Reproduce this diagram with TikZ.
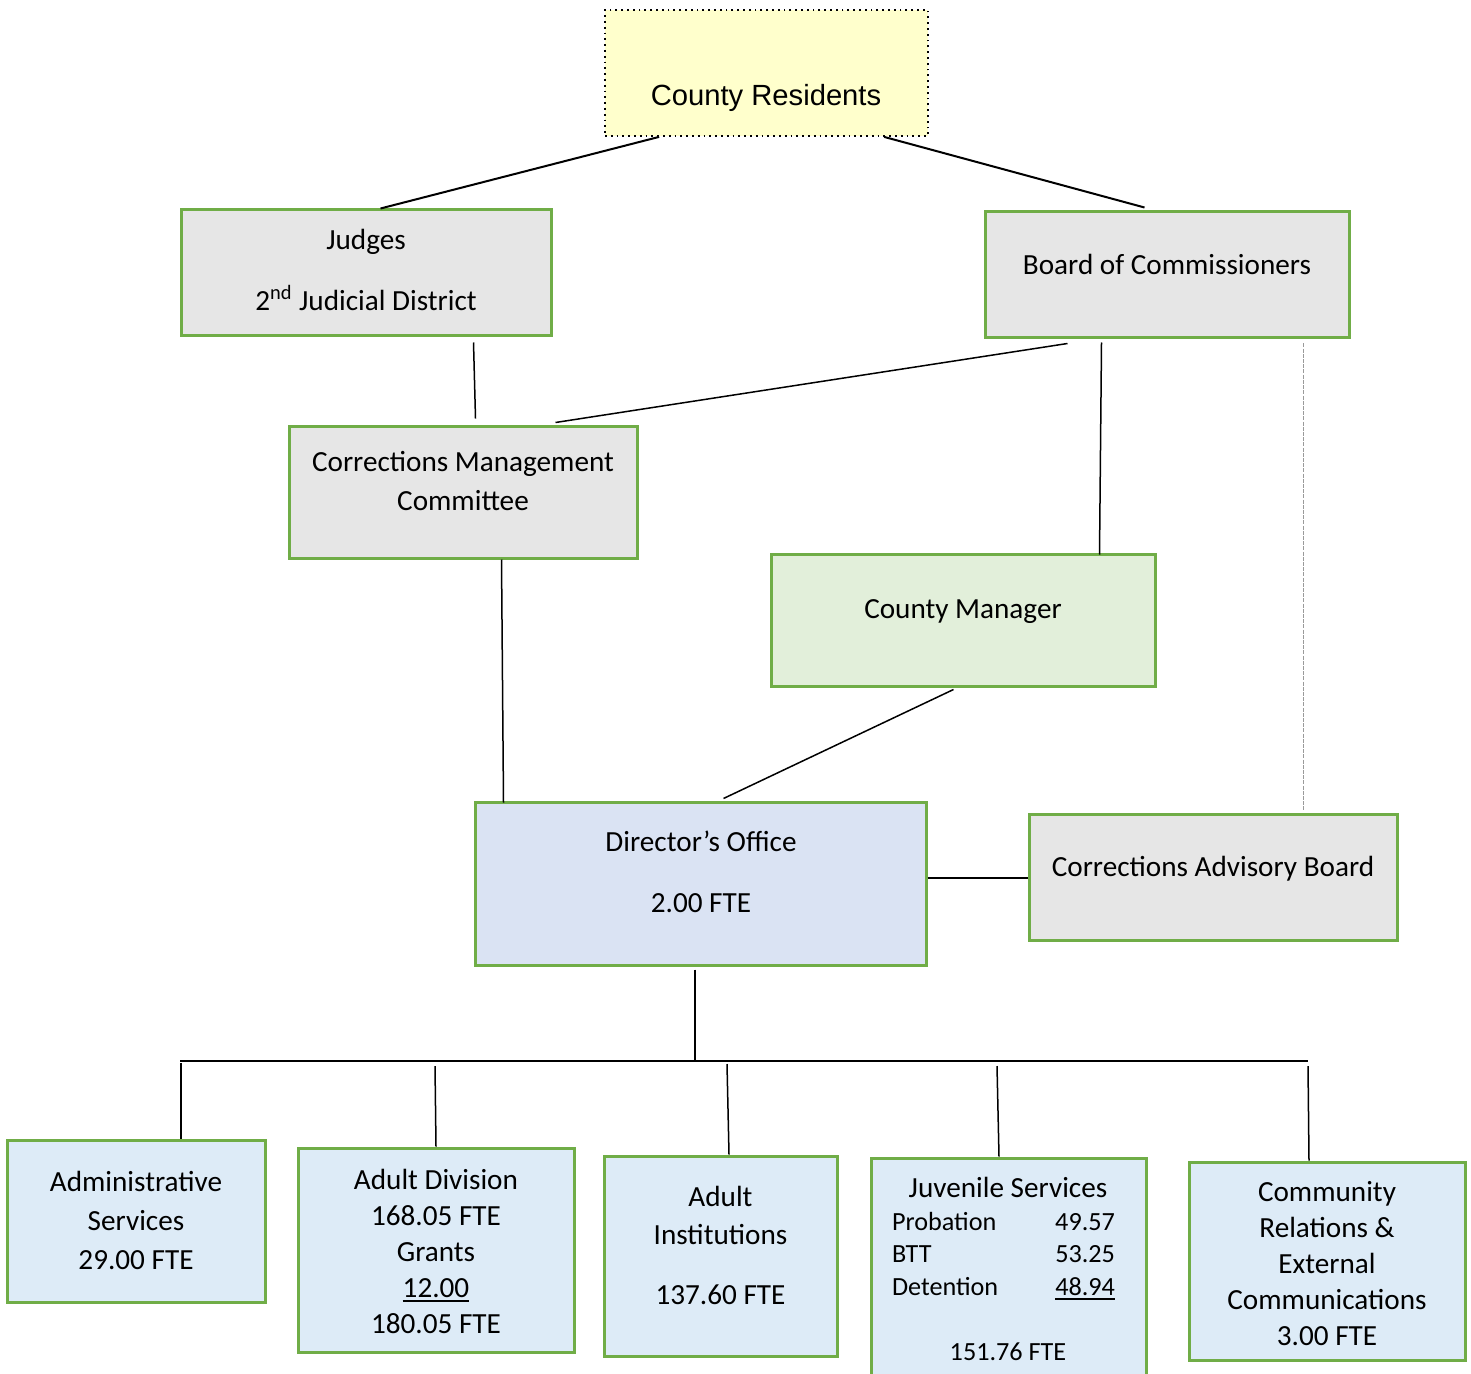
\documentclass[tikz,border=0pt]{standalone}
\usepackage{fontspec}
\setmainfont{Carlito}
\newfontfamily\arialfont{Liberation Sans}
\usepackage{xcolor}
\usepackage{tikz}
\usetikzlibrary{calc}

\definecolor{boxgreen}{HTML}{70AD47}
\definecolor{residents}{HTML}{FFFFCC}
\definecolor{boardgrey}{HTML}{E6E6E6}
\definecolor{managergreen}{HTML}{E2EFDA}
\definecolor{directorblue}{HTML}{DAE3F3}
\definecolor{unitblue}{HTML}{DDEBF7}
\definecolor{advisorygrey}{HTML}{9A9A9A}

% subtotal rule under a figure
\newcommand{\sumline}[1]{\leavevmode\vtop{\hbox{#1}\kern1.5pt\hrule height 0.9pt}}

\begin{document}
\begin{tikzpicture}[
        x=0.5pt, y=-0.5pt,
        block/.style={
            rectangle,
            draw=boxgreen,
            line width=1.5pt,
            inner sep=0pt
        },
        boxsize/.style 2 args={
            minimum width=#1*0.5pt,
            minimum height=#2*0.5pt
        },
        boxtext/.style={
            align=center,
            inner sep=0pt,
            font=\fontsize{14.6}{18}\selectfont
        },
        smalltext/.style={
            align=center,
            inner sep=0pt,
            font=\fontsize{13.1}{16.25}\selectfont
        },
        link/.style={line width=0.75pt}
    ]
    \useasboundingbox (0,0) rectangle (1471,1374);

    % Nodes
    \node[rectangle, draw, dotted, line width=0.9pt, fill=residents, boxsize={323}{126}] (residents) at (766.5,73) {};
    \node[boxtext, font=\arialfont\fontsize{14.6}{18}\selectfont] (residents text) at (766,98) {County Residents};

    \node[block, fill=boardgrey, boxsize={370}{126}] (judges) at (366,273) {};
    \node[boxtext] (judges text) at (366,269.5) {Judges\\[12.5pt]2\textsuperscript{nd} Judicial District};

    \node[block, fill=boardgrey, boxsize={364}{126}] (board) at (1167,275) {};
    \node[boxtext] (board text) at (1167,264) {Board of Commissioners};

    \node[block, fill=boardgrey, boxsize={348}{132}] (committee) at (463,492) {};
    \node[boxtext] (committee text) at (463,481.5) {Corrections Management\\[1.5pt]Committee};

    \node[block, fill=managergreen, boxsize={384}{132}] (manager) at (963,620) {};
    \node[boxtext] (manager text) at (963,612) {County Manager};

    \node[block, fill=directorblue, boxsize={451}{163}] (director) at (700.5,883.5) {};
    \node[boxtext] (director text) at (701,872) {Director’s Office\\[12.5pt]2.00 FTE};

    \node[block, fill=boardgrey, boxsize={368}{126}] (advisory) at (1213,877) {};
    \node[boxtext] (advisory text) at (1213,869) {Corrections Advisory Board};

    \node[block, fill=unitblue, boxsize={258}{162}] (admin) at (136,1221) {};
    \node[boxtext] (admin text) at (136,1220.5) {Administrative\\[1.5pt]Services\\[1.5pt]29.00 FTE};

    \node[block, fill=unitblue, boxsize={276}{204}] (adult) at (436,1250) {};
    \node[boxtext] (adult text) at (436,1251) {Adult Division\\168.05 FTE\\Grants\\\sumline{12.00}\\180.05 FTE};

    \node[block, fill=unitblue, boxsize={233}{200}] (institutions) at (720.5,1256) {};
    \node[boxtext] (institutions text) at (720.5,1245.5) {Adult\\[1pt]Institutions\\[12pt]137.60 FTE};

    \node[block, fill=unitblue, boxsize={275}{240}] (juvenile) at (1008.5,1278) {};
    \node[boxtext] (juvenile title) at (1008,1187) {Juvenile Services};
    \node[smalltext] (juvenile rows) at (1003.5,1256) {%
        \makebox[111.5pt]{Probation\hfill 49.57}\\
        \makebox[111.5pt]{BTT\hfill 53.25}\\
        \makebox[111.5pt]{Detention\hfill \sumline{48.94}}};
    \node[smalltext] (juvenile total) at (1008,1352) {151.76 FTE};

    \node[block, fill=unitblue, boxsize={276}{198}] (community) at (1327,1261) {};
    \node[boxtext] (community text) at (1327,1263.5) {Community\\Relations \&\\External\\Communications\\3.00 FTE};

    % Bus under the director
    \coordinate (bus left) at (180,1061);
    \coordinate (bus right) at (1308,1061);
    \coordinate (bus mid) at (695,1061);
    \coordinate (tap admin) at (181,1063);
    \coordinate (tap adult) at (435,1066);
    \coordinate (tap institutions) at (727,1064);
    \coordinate (tap juvenile) at (997,1066);
    \coordinate (tap community) at (1308,1066);

    % Lines
    \draw[line width=1pt] ($(residents.south west)+(55,0)$) -- ($(judges.north west)+(201,0)$);
    \draw[line width=1pt] ($(residents.south west)+(280,0)$) -- ($(board.north west)+(161,-3)$);
    \draw[link] ($(judges.south west)+(294,5)$) -- ($(committee.north west)+(188,-6)$);
    \draw[link] ($(board.south west)+(84,4)$) -- ($(committee.north west)+(268,-2)$);
    \draw[link] ($(board.south west)+(118,3)$) -- ($(manager.north west)+(330,2)$);
    \draw[advisorygrey, line width=0.9pt, dash pattern=on 2pt off 0.6pt] ($(board.south west)+(320,4)$) -- ($(advisory.north west)+(276,-2)$);
    \draw[link] ($(committee.south west)+(214,0)$) -- ($(director.north west)+(30,2)$);
    \draw[link] ($(manager.south west)+(184,2)$) -- ($(director.north west)+(250,-2)$);
    \draw[link] (director.east |- 0,878) -- (advisory.west |- 0,878);
    \draw[link] ($(director.south)+(-5.5,3)$) -- (bus mid);
    \draw[link] (bus left) -- (bus right);
    \draw[link] (tap admin) -- (admin.north -| tap admin);
    \draw[link] (tap adult) -- ($(adult.north -| tap adult)+(1,0)$);
    \draw[link] (tap institutions) -- ($(institutions.north -| tap institutions)+(2,0)$);
    \draw[link] (tap juvenile) -- ($(juvenile.north -| tap juvenile)+(2,0)$);
    \draw[link] (tap community) -- ($(community.north -| tap community)+(1,0)$);

\end{tikzpicture}
\end{document}
